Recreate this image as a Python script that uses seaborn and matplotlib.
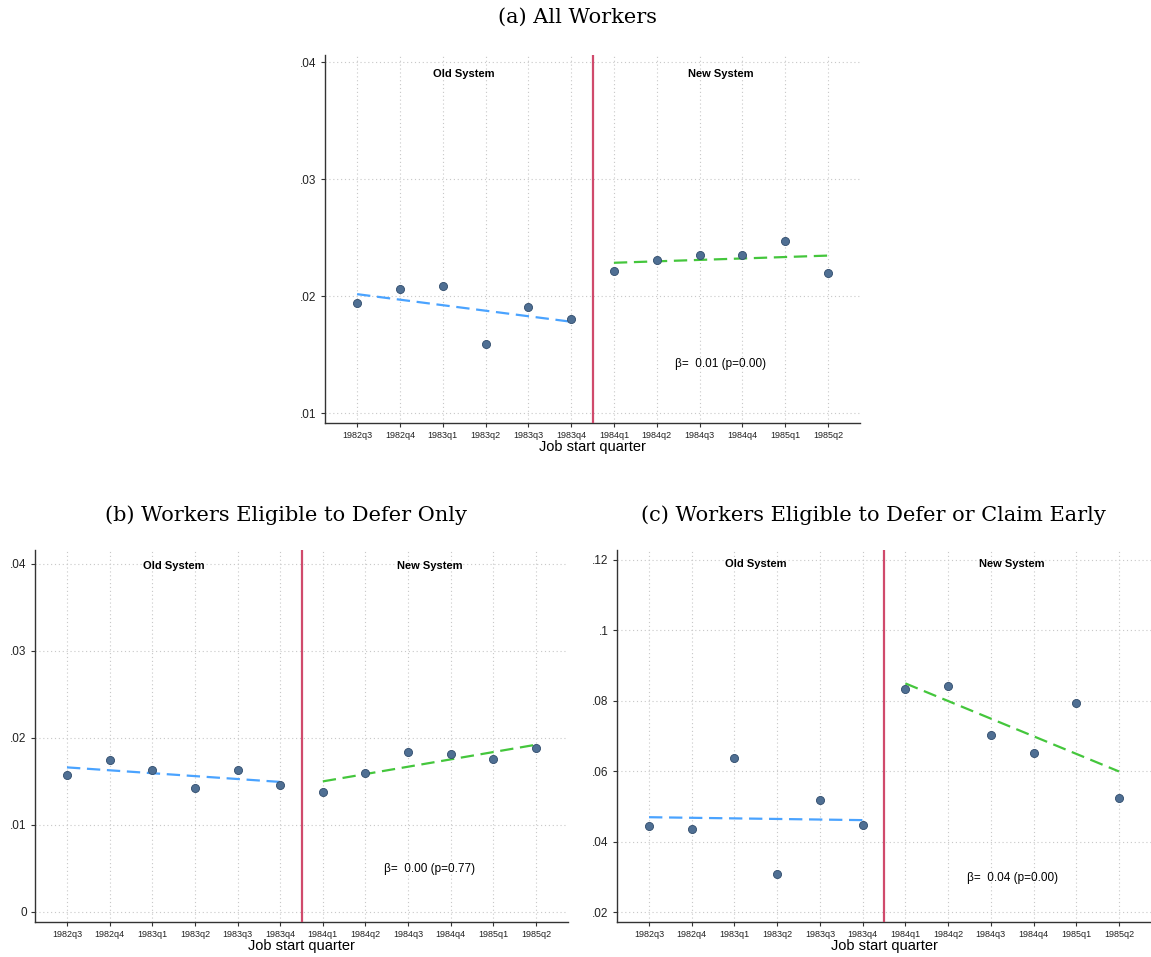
import numpy as np
import pandas as pd
import seaborn as sns
import matplotlib.pyplot as plt

# quarters (x axis)
quarters = ['1982q3', '1982q4', '1983q1', '1983q2', '1983q3', '1983q4',
            '1984q1', '1984q2', '1984q3', '1984q4', '1985q1', '1985q2']

# values
all_workers = [0.0194, 0.0206, 0.0209, 0.0159, 0.0191, 0.0180,
               0.0221, 0.0231, 0.0235, 0.0235, 0.0247, 0.0220]
defer_only = [0.0158, 0.0175, 0.0163, 0.0142, 0.0163, 0.0146,
              0.0138, 0.0160, 0.0184, 0.0181, 0.0176, 0.0188]
defer_or_early = [0.0444, 0.0435, 0.0638, 0.0308, 0.0519, 0.0448,
                  0.0833, 0.0843, 0.0702, 0.0652, 0.0793, 0.0523]

titles = ['(a) All Workers', '(b) Workers Eligible to Defer Only',
          '(c) Workers Eligible to Defer or Claim Early']
beta_labels = ['\u03b2=  0.01 (p=0.00)', '\u03b2=  0.00 (p=0.77)', '\u03b2=  0.04 (p=0.00)']
y_ticks = [[0.01, 0.02, 0.03, 0.04],
           [0.0, 0.01, 0.02, 0.03, 0.04],
           [0.02, 0.04, 0.06, 0.08, 0.10, 0.12]]
y_limits = [(0.00915, 0.0406), (-0.00115, 0.0416), (0.0172, 0.1228)]
beta_y = [0.0142, 0.0049, 0.0297]
label_y = [0.0390, 0.0398, 0.1188]

sns.set_theme(style='ticks')
plt.rcParams['font.family'] = ['Liberation Sans', 'DejaVu Sans']
plt.rcParams['text.color'] = 'black'
plt.rcParams['xtick.color'] = '#222222'
plt.rcParams['ytick.color'] = '#222222'
plt.rcParams['axes.labelcolor'] = 'black'

W, H = 1151, 957
fig = plt.figure(figsize=(W / 100, H / 100), dpi=100)

# axes boxes in pixels: left, right, top, bottom
boxes = [(325, 860, 55, 423), (35, 568, 550, 922), (617, 1151, 550, 922)]
title_pos = [(578, 17), (286, 515), (873, 515)]

dot_color = '#4f6f93'
dot_edge = '#2f4b6b'
old_color = '#4aa3ff'
new_color = '#44c63c'
cut_color = '#d04a6c'


def stata_fmt(v):
    if v == 0:
        return '0'
    s = ('%.2f' % v).rstrip('0')
    return s[1:] if s.startswith('0') else s


for i, vals in enumerate([all_workers, defer_only, defer_or_early]):
    l, r, t, b = boxes[i]
    ax = fig.add_axes([l / W, 1 - b / H, (r - l) / W, (b - t) / H])
    df = pd.DataFrame({'q': np.arange(len(quarters)), 'y': vals})
    old = df[df['q'] < 6]
    new = df[df['q'] >= 6]

    ax.grid(True, color='#c8c8c8', ls=(0, (1, 2.5)), lw=0.8)
    ax.set_axisbelow(True)

    # fitted lines on each side of the cutoff
    sns.regplot(data=old, x='q', y='y', ax=ax, scatter=False, ci=None,
                line_kws=dict(color=old_color, ls=(0, (6, 3)), lw=1.6))
    sns.regplot(data=new, x='q', y='y', ax=ax, scatter=False, ci=None,
                line_kws=dict(color=new_color, ls=(0, (6, 3)), lw=1.6))
    sns.scatterplot(data=df, x='q', y='y', ax=ax, color=dot_color,
                    edgecolor=dot_edge, linewidth=0.6, s=34, zorder=4)
    ax.axvline(5.5, color=cut_color, lw=1.6, zorder=3)

    ax.set_xlim(-0.75, 11.75)
    ax.set_ylim(*y_limits[i])
    ax.set_xticks(range(len(quarters)))
    ax.set_xticklabels(quarters, fontsize=6.5)
    ax.set_yticks(y_ticks[i])
    ax.set_yticklabels([stata_fmt(v) for v in y_ticks[i]], fontsize=8.5)
    ax.tick_params(axis='both', length=3, width=0.8, color='#333333', pad=3)
    ax.set_xlabel('Job start quarter', fontsize=10.5, labelpad=0)
    ax.set_ylabel('')
    sns.despine(ax=ax)
    for s in ['left', 'bottom']:
        ax.spines[s].set_color('#333333')
        ax.spines[s].set_linewidth(1.0)

    ax.text(2.5, label_y[i], 'Old System', ha='center', va='center',
            fontsize=8, fontweight='bold')
    ax.text(8.5, label_y[i], 'New System', ha='center', va='center',
            fontsize=8, fontweight='bold')
    ax.text(8.5, beta_y[i], beta_labels[i], ha='center', va='center', fontsize=8.5)

    tx, ty = title_pos[i]
    fig.text(tx / W, 1 - ty / H, titles[i], ha='center', va='center',
             fontsize=15, family=['DejaVu Serif'])

fig.savefig('out.png', dpi=100)
